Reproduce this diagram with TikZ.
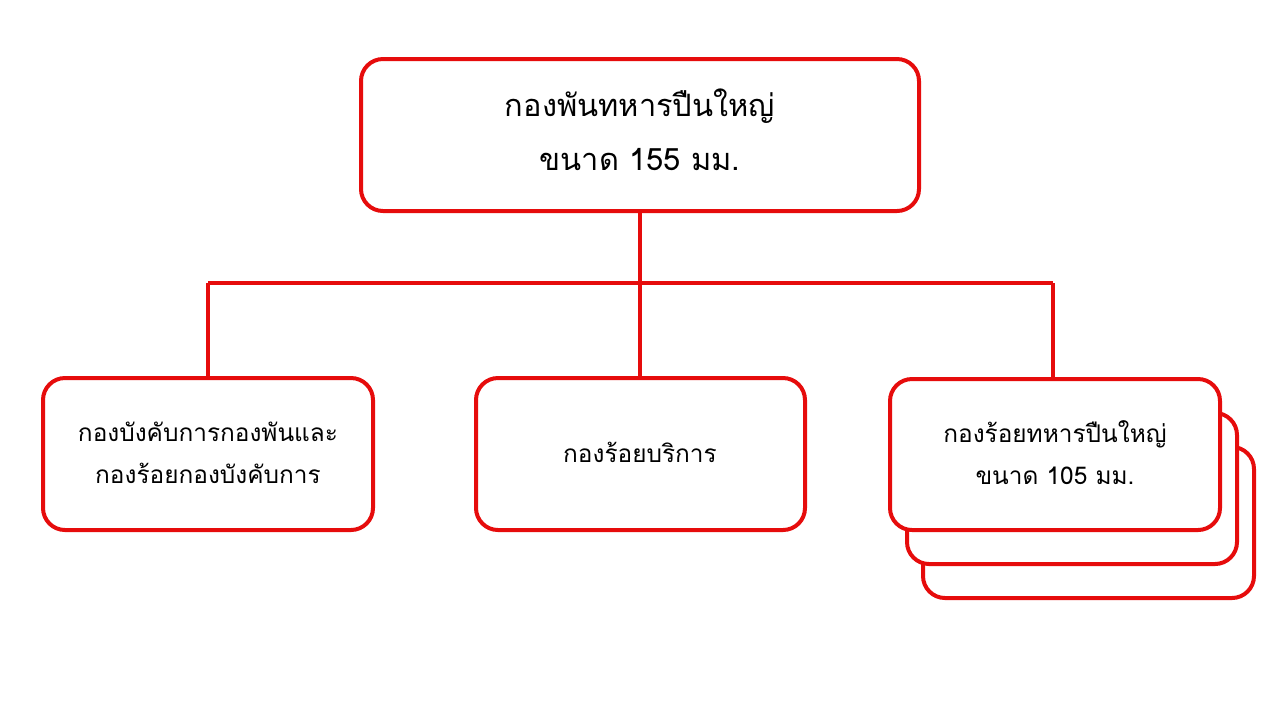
\documentclass[tikz,border=0pt]{standalone}
\usepackage{fontspec}
\newfontfamily\thaifont[Script=Thai]{Loma}
\definecolor{boxred}{RGB}{230,12,12}
\begin{document}
\begin{tikzpicture}[x=0.5pt,y=-0.5pt,
  orgbox/.style={draw=boxred,line width=2pt,rounded corners=11pt,fill=white},
  conn/.style={draw=boxred,line width=1.6pt},
  bigtxt/.style={font=\thaifont\fontsize{15.4}{18}\selectfont,align=center},
  smalltxt/.style={font=\thaifont\fontsize{12.2}{14}\selectfont,align=center}]
\useasboundingbox (0,0) rectangle (1280,720);
% top box
\draw[orgbox] (361,59) rectangle (919,211);
\node[bigtxt] (t1) at (640,106) {กองพันทหารปืนใหญ่};
\node[bigtxt] (t2) at (640,160) {ขนาด 155 มม.};
\coordinate (top) at (640,211);
\coordinate (mid) at (640,283);
\coordinate (hl) at (208,283);
\coordinate (hr) at (1053,283);
\coordinate (bl) at (208,378);
\coordinate (bm) at (640,378);
\coordinate (br) at (1053,379);
\draw[conn] (top) -- (mid);
\draw[conn] (hl) -- (hr);
\draw[conn] (hl) -- (bl);
\draw[conn] (mid) -- (bm);
\draw[conn] (hr) -- (br);
% left box
\draw[orgbox] (43,378) rectangle (373,530);
\node[smalltxt] (l1) at (208,432) {กองบังคับการกองพันและ};
\node[smalltxt] (l2) at (208,473) {กองร้อยกองบังคับการ};
% middle box
\draw[orgbox] (476,378) rectangle (805,530);
\node[smalltxt] (m1) at (640,452) {กองร้อยบริการ};
% right stacked boxes
\draw[orgbox] (923,447) rectangle (1254,598);
\draw[orgbox] (907,413) rectangle (1237,564);
\draw[orgbox] (890,379) rectangle (1220,530);
\node[smalltxt] (r1) at (1055,434) {กองร้อยทหารปืนใหญ่};
\node[smalltxt] (r2) at (1055,476) {ขนาด 105 มม.};
\end{tikzpicture}
\end{document}
